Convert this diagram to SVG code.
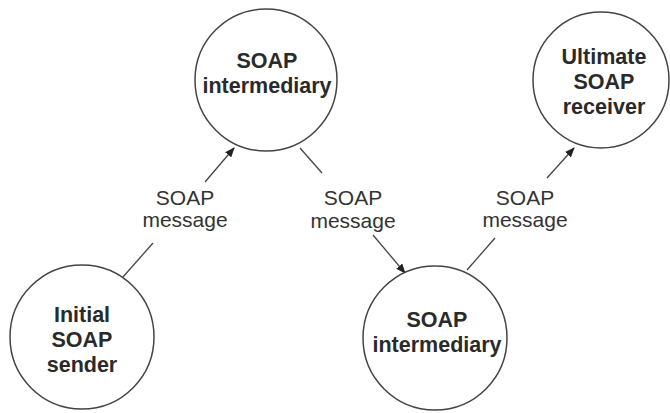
<svg xmlns="http://www.w3.org/2000/svg" width="670" height="413" viewBox="0 0 670 413">
<defs>
<style>
.node circle{fill:#fff;stroke:#444;stroke-width:1.5}
.node text{font-family:"Liberation Sans",Arial,sans-serif;font-weight:bold;font-size:21.5px;fill:#2a2a2a;text-anchor:middle}
.lbl{font-family:"Liberation Sans",Arial,sans-serif;font-size:21px;fill:#333;text-anchor:middle}
.edge{stroke:#444;stroke-width:1.3;fill:none}
</style>
<marker id="arr" markerUnits="userSpaceOnUse" markerWidth="10" markerHeight="8" refX="9" refY="4" orient="auto">
<path d="M0,0 L10,4 L0,8 z" fill="#222"/>
</marker>
</defs>
<rect width="670" height="413" fill="#fff"/>
<g id="connectors">
<line class="edge" x1="123" y1="277" x2="153" y2="243"/>
<line class="edge" x1="205" y1="182" x2="234" y2="148" marker-end="url(#arr)"/>
<line class="edge" x1="300" y1="148" x2="322" y2="173"/>
<line class="edge" x1="373" y1="235" x2="405" y2="273" marker-end="url(#arr)"/>
<line class="edge" x1="467" y1="270" x2="495" y2="238"/>
<line class="edge" x1="547" y1="178" x2="574" y2="148" marker-end="url(#arr)"/>
<text class="lbl" x="185" y="205">SOAP</text>
<text class="lbl" x="185" y="227">message</text>
<text class="lbl" x="353" y="205">SOAP</text>
<text class="lbl" x="353" y="228">message</text>
<text class="lbl" x="525" y="205">SOAP</text>
<text class="lbl" x="525" y="227">message</text>
</g>
<g id="n_intermediary1" class="node">
<circle cx="266" cy="80" r="71"/>
<text x="267" y="68">SOAP</text>
<text x="267" y="93">intermediary</text>
</g>
<g id="n_ultimate" class="node">
<circle cx="601" cy="80" r="68"/>
<text x="604" y="64">Ultimate</text>
<text x="604" y="89">SOAP</text>
<text x="604" y="114">receiver</text>
</g>
<g id="n_initial" class="node">
<circle cx="82" cy="337" r="72"/>
<text x="82" y="322">Initial</text>
<text x="82" y="347">SOAP</text>
<text x="82" y="372">sender</text>
</g>
<g id="n_intermediary2" class="node">
<circle cx="435" cy="338" r="72"/>
<text x="437" y="327">SOAP</text>
<text x="437" y="352">intermediary</text>
</g>
</svg>
